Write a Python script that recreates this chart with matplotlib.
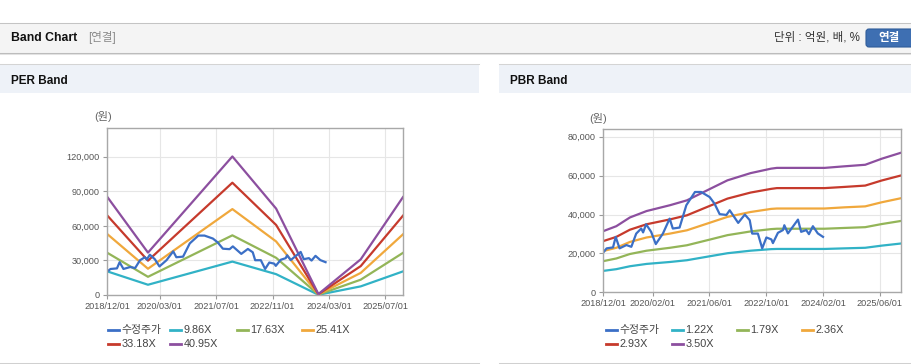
import pandas as pd
import matplotlib
matplotlib.use('Agg')
import matplotlib.pyplot as plt
import matplotlib.dates as mdates
from matplotlib.patches import Rectangle, FancyBboxPatch
from matplotlib.lines import Line2D
from matplotlib.ticker import FuncFormatter
from matplotlib.transforms import Affine2D

plt.rcParams['font.family'] = ['Liberation Sans', 'Noto Sans CJK KR']

W, H = 912, 364

# adjusted share price (수정주가), same series on both charts
price_dates = ['2018-12-01', '2019-01-01', '2019-02-25', '2019-03-20', '2019-04-22',
               '2019-06-20', '2019-08-01', '2019-09-12', '2019-10-25', '2019-11-10',
               '2019-12-06', '2020-01-18', '2020-02-27', '2020-04-28', '2020-06-25',
               '2020-07-22', '2020-09-18', '2020-11-15', '2021-01-28', '2021-03-22',
               '2021-06-03', '2021-07-15', '2021-08-28', '2021-10-25', '2021-11-22',
               '2022-02-03', '2022-04-01', '2022-05-13', '2022-06-03', '2022-07-22',
               '2022-08-28', '2022-10-03', '2022-11-15', '2022-11-28', '2023-01-10',
               '2023-02-22', '2023-03-06', '2023-04-06', '2023-07-01', '2023-07-28',
               '2023-09-10', '2023-10-03', '2023-11-06', '2023-12-18', '2024-02-01']
price = [20300, 22600, 23100, 28500, 22600,
         24300, 23400, 30200, 32800, 30800,
         35000, 31100, 24800, 30200, 37900,
         32800, 33300, 44800, 51600, 51600,
         49000, 45600, 40200, 39800, 42200,
         35700, 40000, 37100, 30200, 30200,
         22600, 28200, 27200, 25300, 30600,
         32000, 34500, 30300, 37400, 31100,
         32000, 29900, 34000, 30300, 28500]

# PER band
per_dates = ['2018-12-01', '2019-11-20', '2021-11-18', '2022-12-01',
             '2023-12-01', '2024-12-01', '2025-12-01']
per_labels = ['9.86X', '17.63X', '25.41X', '33.18X', '40.95X']
per_1 = [20600, 8900, 29000, 18100, 190, 7500, 20500]
per_2 = [36800, 15800, 51800, 32300, 340, 13300, 36600]
per_3 = [53100, 22800, 74600, 46500, 500, 19200, 52700]
per_4 = [69300, 29800, 97500, 60800, 650, 25100, 68900]
per_5 = [85500, 36800, 120300, 75000, 800, 31000, 85000]
per_ticks = ['2018-12-01', '2020-03-01', '2021-07-01', '2022-11-01', '2024-03-01', '2025-07-01']

# PBR band
pbr_dates = ['2018-12-01', '2019-03-25', '2019-07-20', '2019-12-10', '2020-06-28',
             '2020-11-20', '2021-06-10', '2021-11-03', '2022-05-20', '2022-11-12',
             '2023-01-01', '2024-02-15', '2024-08-01', '2025-01-28', '2025-06-18',
             '2025-12-01']
pbr_labels = ['1.22X', '1.79X', '2.36X', '2.93X', '3.50X']
pbr_1 = [11000, 11900, 13400, 14600, 15600, 16500, 18600, 20100, 21400, 22200,
         22300, 22300, 22600, 22900, 24000, 25100]
pbr_2 = [16000, 17400, 19700, 21400, 22900, 24200, 27200, 29400, 31300, 32500,
         32700, 32700, 33100, 33500, 35100, 36700]
pbr_3 = [21200, 22900, 25900, 28200, 30200, 31900, 35900, 38800, 41300, 42900,
         43100, 43100, 43700, 44200, 46300, 48400]
pbr_4 = [26300, 28500, 32200, 35000, 37500, 39600, 44600, 48200, 51300, 53200,
         53600, 53600, 54200, 54900, 57500, 60100]
pbr_5 = [31400, 34000, 38500, 41800, 44800, 47300, 53300, 57600, 61300, 63600,
         64000, 64000, 64800, 65600, 68700, 71800]
pbr_ticks = ['2018-12-01', '2020-02-01', '2021-06-01', '2022-10-01', '2024-02-01', '2025-06-01']

price_color = '#3b6fc6'
band_colors = ['#31b2c6', '#93b558', '#f0a83c', '#c63a2c', '#8c4f9f']

fig = plt.figure(figsize=(W / 100, H / 100), dpi=100)
px = Affine2D().scale(1, -1).translate(0, H)  # pixel coords, y from top


def rect(x, y, w, h, color):
    fig.patches.append(Rectangle((x, y), w, h, transform=px, facecolor=color,
                                 edgecolor='none', zorder=0))


def hline(x0, x1, y, color, lw=0.75):
    fig.add_artist(Line2D([x0, x1], [y, y], transform=px, color=color, lw=lw))


# page header
rect(0, 22.5, W, 30, '#f4f4f4')
hline(0, W, 22.5, '#c4c4c4')
hline(0, W, 52.5, '#bcbcbc')
hline(0, W, 53.5, '#e2e2e2')
fig.text(11, 38, 'Band Chart', transform=px, fontsize=8.8, fontweight='bold',
         color='#111111', va='center')
fig.text(88, 38, '[연결]', transform=px, fontsize=8.3, color='#8a8a8a', va='center')
fig.text(860, 38, '단위 : 억원, 배, %', transform=px, fontsize=8.3, color='#333333',
         va='center', ha='right')
fig.patches.append(FancyBboxPatch((866, 29), 52, 18, transform=px,
                                  boxstyle='round,pad=0,rounding_size=3',
                                  facecolor='#3e6fb2', edgecolor='#2f5c9a', lw=0.8))
fig.text(889, 38, '연결', transform=px, fontsize=8.3, fontweight='bold',
         color='white', va='center', ha='center')

# panel title bars
for x0, w, title in [(0, 479, 'PER Band'), (499, 413, 'PBR Band')]:
    rect(x0, 63.5, w, 29, '#eef2f8')
    hline(x0, x0 + w, 63.5, '#d4d4d4')
    hline(x0, x0 + w, 362.5, '#d0d0d0')
    fig.text(x0 + 11, 80.5, title, transform=px, fontsize=8.5, fontweight='bold',
             color='#111111', va='center')


def band_chart(box, bands, labels, ticks, ymax, ystep, unit_xy, legend_x):
    x0, y0, x1, y1 = box
    ax = fig.add_axes([x0 / W, 1 - y1 / H, (x1 - x0) / W, (y1 - y0) / H])
    for vals, c in zip(bands[1], band_colors):
        ax.plot(pd.to_datetime(bands[0]), vals, color=c, lw=1.6)
    ax.plot(pd.to_datetime(price_dates), price, color=price_color, lw=1.6)

    ax.set_xlim(pd.Timestamp('2018-12-01'), pd.Timestamp('2025-12-01'))
    ax.set_ylim(0, ymax)
    ax.set_xticks(pd.to_datetime(ticks))
    ax.xaxis.set_major_formatter(mdates.DateFormatter('%Y/%m/%d'))
    ax.set_yticks(range(0, int(ymax), ystep))
    ax.yaxis.set_major_formatter(FuncFormatter(lambda v, p: f'{v:,.0f}'))
    ax.tick_params(labelsize=6.6, labelcolor='#555555', color='#9a9a9a',
                   length=3, width=0.8, pad=2)
    ax.grid(True, color='#e6e6e6', lw=0.8)
    ax.set_axisbelow(True)
    for s in ax.spines.values():
        s.set_color('#a8a8a8')
        s.set_linewidth(1)

    fig.text(unit_xy[0], unit_xy[1], '(원)', transform=px, fontsize=8,
             color='#666666', ha='center', va='center')

    # legend: two rows, fixed-width columns
    names = ['수정주가'] + labels
    colors = [price_color] + band_colors
    for i, (name, c) in enumerate(zip(names, colors)):
        lx = legend_x[i % 4]
        ly = 330 if i < 4 else 344
        fig.add_artist(Line2D([lx, lx + 11], [ly, ly], transform=px, color=c, lw=2))
        fig.text(lx + 13.5, ly, name, transform=px, fontsize=7.8, color='#444444',
                 va='center')
    return ax


band_chart((107, 128, 403, 295), (per_dates, [per_1, per_2, per_3, per_4, per_5]),
           per_labels, per_ticks, 145000, 30000, (103, 117), [108, 170, 237, 302])
band_chart((603, 129, 901, 292.3), (pbr_dates, [pbr_1, pbr_2, pbr_3, pbr_4, pbr_5]),
           pbr_labels, pbr_ticks, 84000, 20000, (598, 118), [606, 672, 737, 802])

fig.savefig('out.png', dpi=100)
